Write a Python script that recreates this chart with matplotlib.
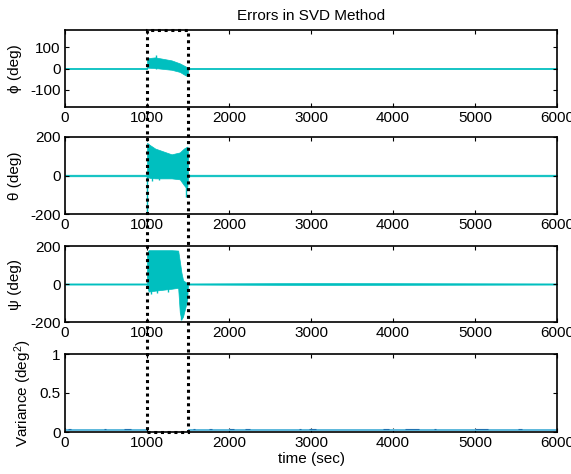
import matplotlib
matplotlib.use("Agg")
import matplotlib.pyplot as plt
from matplotlib.patches import Rectangle

plt.rcParams['font.family'] = ['Liberation Sans', 'DejaVu Sans']
plt.rcParams['mathtext.fontset'] = 'custom'
plt.rcParams['mathtext.rm'] = 'Liberation Sans'
plt.rcParams['mathtext.it'] = 'Liberation Sans:italic'
plt.rcParams['axes.unicode_minus'] = False
plt.rcParams['font.size'] = 11

# ---- attitude error envelopes (deg) ----
PHI_T  = [0, 1000, 1001, 1100, 1200, 1300, 1400, 1470, 1499, 1500, 3000, 6000]
PHI_HI = [3, 3, 48, 52, 45, 38, 24, 10, 2, 3, 3, 3]
PHI_LO = [-3, -3, 4, 2, -2, -6, -16, -32, -36, -3, -3, -3]

THETA_T  = [0, 1000, 1001, 1030, 1100, 1200, 1300, 1400, 1450, 1490, 1499, 1500, 3000, 6000]
THETA_HI = [4, 4, 170, 160, 140, 125, 110, 120, 140, 150, 145, 4, 4, 4]
THETA_LO = [-4, -4, -5, -12, -15, -15, -15, -20, -50, -70, -20, -4, -4, -4]

PSI_T  = [0, 1000, 1001, 1020, 1100, 1200, 1300, 1380, 1400, 1420, 1440, 1470, 1490, 1499, 1500, 3000, 3200, 6000]
PSI_HI = [3, 3, 165, 178, 178, 178, 178, 176, 120, 60, 20, 10, 5, 3, 3, 5, 5, 3]
PSI_LO = [-3, -3, -10, -40, -35, -30, -25, -20, -150, -185, -170, -120, -80, -10, -3, -5, -5, -3]

# isolated spikes: time, lower, upper
THETA_SPK_T  = [1000, 1060, 1150, 1475]
THETA_SPK_LO = [-200, -30, -25, -110]
THETA_SPK_HI = [0, 0, 0, 0]
PHI_SPK_T  = [1110]
PHI_SPK_LO = [0]
PHI_SPK_HI = [62]
PSI_SPK_T  = [1000, 1050, 1120, 1250, 1410, 1430]
PSI_SPK_LO = [-20, -50, -45, -40, -190, -180]
PSI_SPK_HI = [0, 0, 0, 0, 0, 0]

# ---- variance trace ----
VAR_SEG_START = [0, 1500]
VAR_SEG_END = [1000, 6000]
VAR_LEVEL = 0.03
BLIP_START = [40, 470, 720, 1560, 1750, 2000, 2200, 2850, 2980, 3880, 4150, 4500, 5000, 5520]
BLIP_END   = [70, 500, 800, 1580, 1790, 2060, 2260, 2880, 3060, 3950, 4320, 4530, 5160, 5570]
BLIP_H     = [0.035, 0.035, 0.04, 0.035, 0.035, 0.04, 0.035, 0.035, 0.04, 0.04, 0.035, 0.035, 0.04, 0.035]

X_TICKS = [0, 1000, 2000, 3000, 4000, 5000, 6000]
WINDOW = (1000, 1500)

CYAN = '#00bfbf'
VAR_LIGHT = '#5cb8dc'
VAR_DARK = '#1f72b0'

W, H = 571, 474
fig = plt.figure(figsize=(W / 100, H / 100), dpi=100)

left, width = 65 / W, 492 / W
spans = [(30, 107), (137, 214), (246, 322), (354, 432)]
axes = []
for top, bot in spans:
    ax = fig.add_axes([left, 1 - bot / H, width, (bot - top) / H])
    axes.append(ax)

def style(ax):
    ax.set_xlim(0, 6000)
    ax.set_xticks(X_TICKS)
    ax.tick_params(direction='in', top=True, right=True, length=3, width=0.8,
                   labelsize=11, pad=3)
    for s in ax.spines.values():
        s.set_linewidth(1.2)

panels = [
    (axes[0], PHI_T, PHI_HI, PHI_LO, PHI_SPK_T, PHI_SPK_LO, PHI_SPK_HI, (-180, 180), [-100, 0, 100], '\u03d5 (deg)'),
    (axes[1], THETA_T, THETA_HI, THETA_LO, THETA_SPK_T, THETA_SPK_LO, THETA_SPK_HI, (-200, 200), [-200, 0, 200], '\u03b8 (deg)'),
    (axes[2], PSI_T, PSI_HI, PSI_LO, PSI_SPK_T, PSI_SPK_LO, PSI_SPK_HI, (-200, 200), [-200, 0, 200], '\u03c8 (deg)'),
]
for ax, t, hi, lo, st, slo, shi, ylim, yt, lab in panels:
    ax.fill_between(t, lo, hi, color=CYAN, lw=0.5, edgecolor=CYAN)
    ax.vlines(st, slo, shi, color=CYAN, lw=1.0)
    ax.set_ylim(*ylim)
    ax.set_yticks(yt)
    ax.set_ylabel(lab, fontsize=11)
    ax.yaxis.set_label_coords(-0.088, 0.5)
    style(ax)

ax4 = axes[3]
ax4.hlines([VAR_LEVEL] * len(VAR_SEG_START), VAR_SEG_START, VAR_SEG_END, color=VAR_LIGHT, lw=1.4)
ax4.hlines(BLIP_H, BLIP_START, BLIP_END, color=VAR_DARK, lw=0.8)
ax4.set_ylim(0, 1)
ax4.set_yticks([0, 0.5, 1])
ax4.set_yticklabels(['0', '0.5', '1'])
ax4.set_ylabel('Variance (deg$^2$)', fontsize=11)
ax4.yaxis.set_label_coords(-0.064, 0.5)
ax4.set_xlabel('time (sec)', labelpad=1, fontsize=11)
style(ax4)

axes[0].set_title('Errors in SVD Method', fontsize=11, pad=7)

# dotted box marking the transition window, spanning all panels
fig.canvas.draw()
inv = fig.transFigure.inverted()
x0, y_top = inv.transform(axes[0].transData.transform((WINDOW[0], axes[0].get_ylim()[1])))
x1, y_bot = inv.transform(axes[3].transData.transform((WINDOW[1], 0)))
box = Rectangle((x0, y_bot), x1 - x0, y_top - y_bot, transform=fig.transFigure,
                fill=False, edgecolor='black', lw=2.2, linestyle=(0, (1, 1.2)),
                clip_on=False, zorder=10)
fig.patches.append(box)

fig.savefig('out.png', dpi=100)
